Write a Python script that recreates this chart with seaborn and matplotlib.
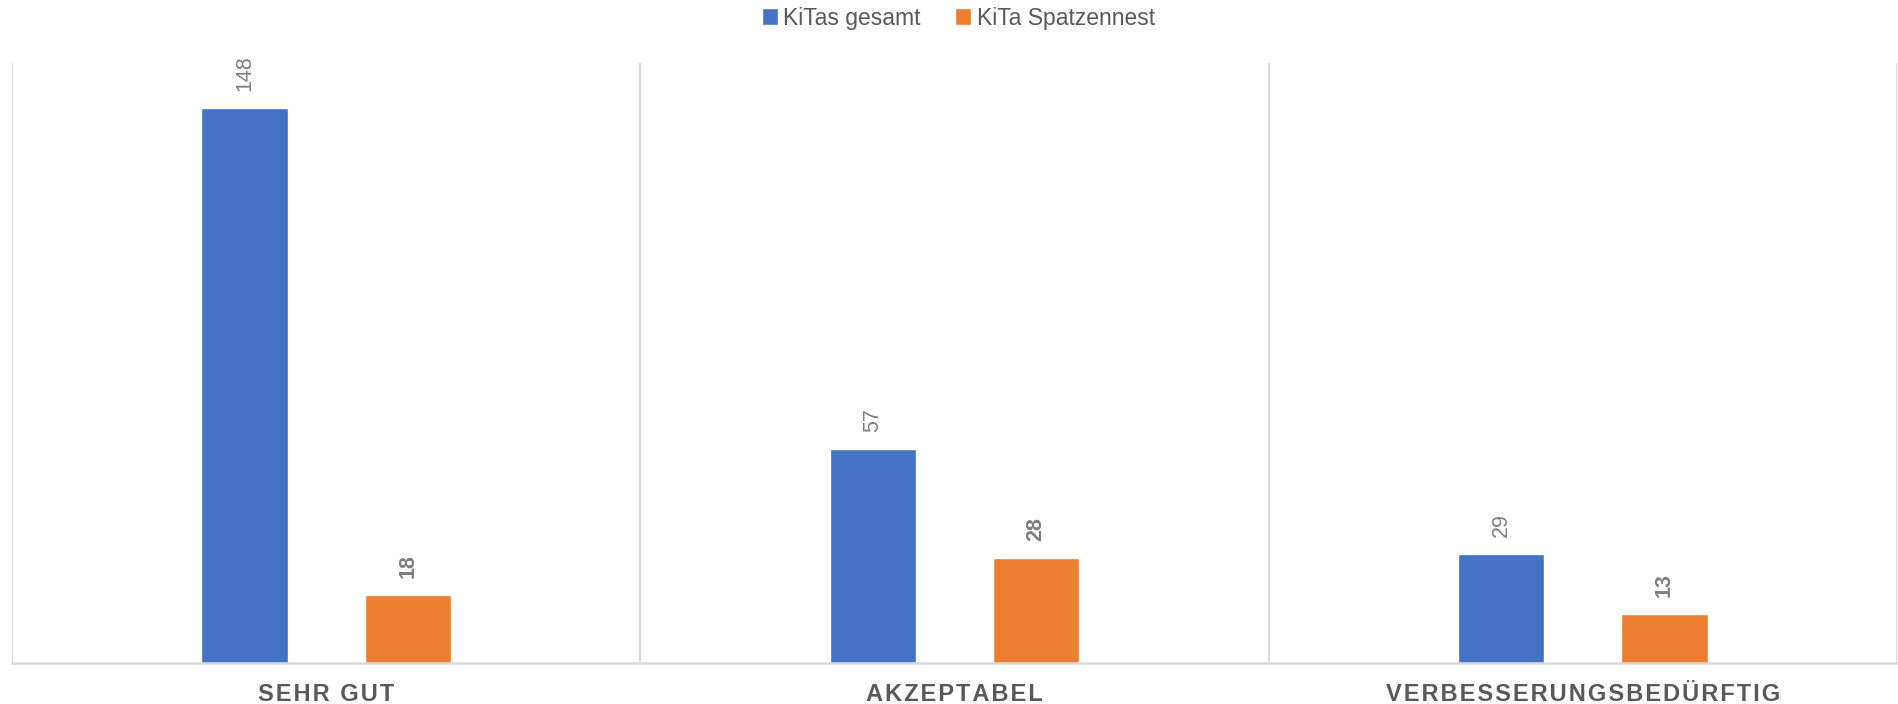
import matplotlib
matplotlib.use("Agg")
import matplotlib.pyplot as plt
import seaborn as sns
import pandas as pd

categories = ["SEHR GUT", "AKZEPTABEL", "VERBESSERUNGSBEDÜRFTIG"]
series_names = ["KiTas gesamt", "KiTa Spatzennest"]
kitas_gesamt = [148, 57, 29]
kita_spatzennest = [18, 28, 13]

colors = ["#4472C4", "#ED7D31"]
text_gray = "#595959"
label_gray = "#7F7F7F"
grid_gray = "#D9D9D9"

sns.set_theme(style="white")
plt.rcParams["font.family"] = ["Liberation Sans", "DejaVu Sans"]

df = pd.DataFrame({
    "Kategorie": categories * 2,
    "Serie": [series_names[0]] * 3 + [series_names[1]] * 3,
    "Anzahl": kitas_gesamt + kita_spatzennest,
})

fig = plt.figure(figsize=(18.98, 7.04), dpi=100)
ax = fig.add_axes([12 / 1898, (704 - 662.5) / 704, (1897 - 12) / 1898, (662.5 - 63) / 704])

sns.barplot(data=df, x="Kategorie", y="Anzahl", hue="Serie", palette=colors,
            width=0.52, gap=0.47, ax=ax, legend=True, saturation=1)

ax.set_ylim(0, 160)
ax.set_xlim(-0.5, len(categories) - 0.5)
ax.set_xlabel("")
ax.set_ylabel("")
ax.set_yticks([])

# category separators
for x in [i - 0.5 for i in range(len(categories) + 1)]:
    ax.axvline(x, color=grid_gray, lw=1.4, zorder=0)

for s in ["top", "right", "left"]:
    ax.spines[s].set_visible(False)
ax.spines["bottom"].set_color(grid_gray)
ax.spines["bottom"].set_linewidth(1.8)

# spaced-out category labels
spaced = ["\u200a".join(list(c)) for c in categories]
ax.set_xticks(range(len(categories)))
ax.set_xticklabels(spaced, fontsize=17, fontweight="bold", color=text_gray)
ax.tick_params(axis="x", length=0, pad=15)

# value labels
weights = ["normal", "bold"]
for cont, w in zip(ax.containers, weights):
    ax.bar_label(cont, rotation=90, padding=12, fontsize=15.5, color=label_gray,
                 fontweight=w)

handles, labels = ax.get_legend_handles_labels()
ax.get_legend().remove()
leg = fig.legend(handles, labels, loc="center", bbox_to_anchor=(0.505, 1 - 18 / 704),
                 ncol=2, frameon=False, fontsize=16.5, handlelength=0.7,
                 handleheight=0.7, handletextpad=0.25, columnspacing=1.5,
                 borderaxespad=0)
for t in leg.get_texts():
    t.set_color(text_gray)

fig.savefig("out.png", dpi=100, facecolor="white")
